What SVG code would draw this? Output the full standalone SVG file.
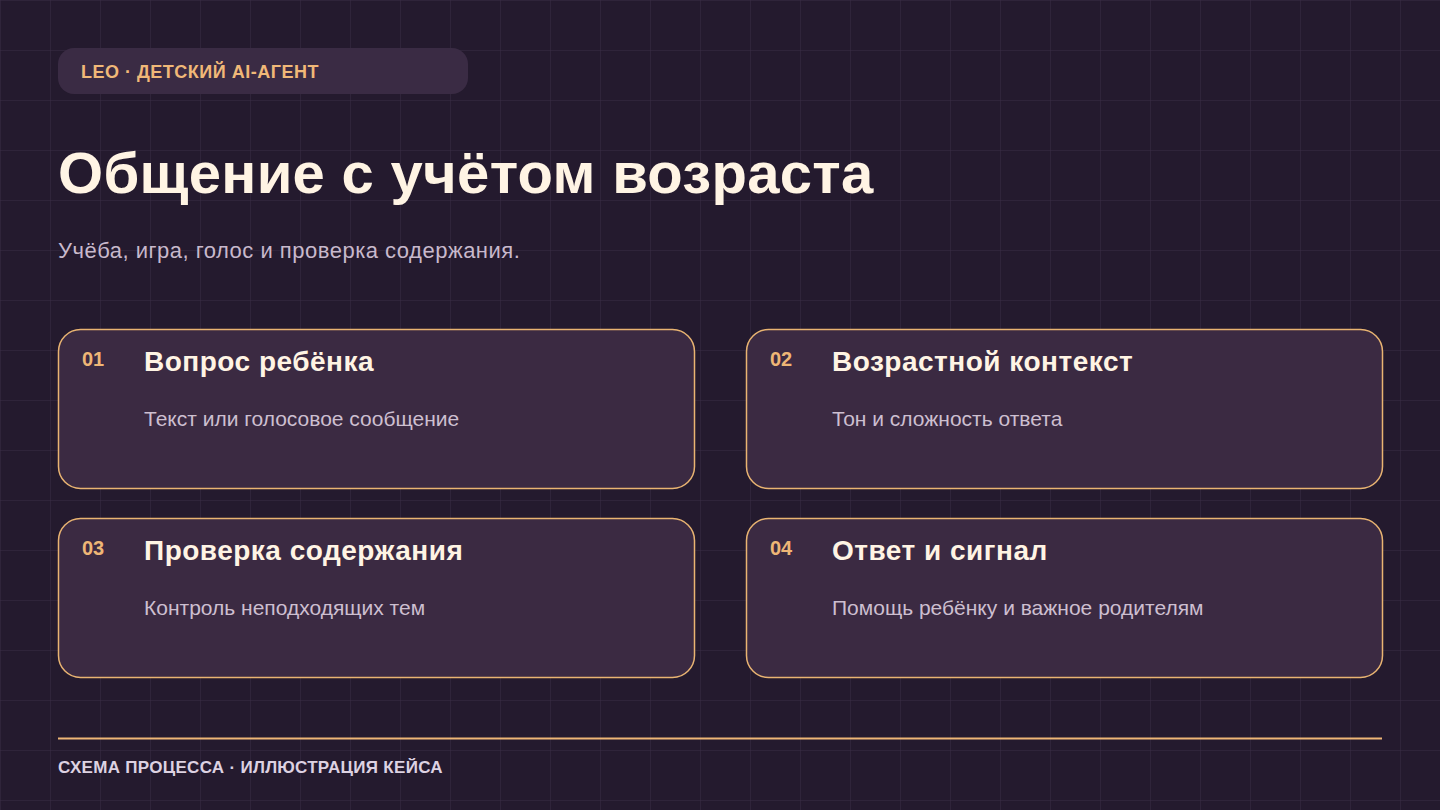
<svg xmlns="http://www.w3.org/2000/svg" width="1440" height="810" viewBox="0 0 1440 810">
<defs>
<pattern id="grid" width="50" height="50" patternUnits="userSpaceOnUse">
<path d="M0 0H50M0 0V50" fill="none" stroke="#3a2d45" stroke-width="1"/>
</pattern>
<style>
.card{fill:#3b2a42;stroke:#e9b472;stroke-width:1.5}
.num{font-family:"Liberation Sans",Arial,sans-serif;font-weight:bold;font-size:20px;fill:#eeb676}
.ttl{font-family:"Liberation Sans",Arial,sans-serif;font-weight:bold;font-size:28px;letter-spacing:0.5px;fill:#fff4e4}
.dsc{font-family:"Liberation Sans",Arial,sans-serif;font-size:21px;fill:#cdbfd0}
</style>
</defs>
<rect width="1440" height="810" fill="#241a2e"/>
<rect width="1440" height="810" fill="url(#grid)"/>
<g id="tag">
<rect x="58" y="48" width="410" height="46" rx="16" fill="#3a2b44"/>
<text x="81" y="78" font-family="Liberation Sans,Arial,sans-serif" font-weight="bold" font-size="18" letter-spacing="0.5" fill="#f0b878">LEO · ДЕТСКИЙ AI-АГЕНТ</text>
</g>
<text x="58" y="193" font-family="Liberation Sans,Arial,sans-serif" font-weight="bold" font-size="58" letter-spacing="0.3" fill="#fff4e4">Общение с учётом возраста</text>
<text x="58" y="258" font-family="Liberation Sans,Arial,sans-serif" font-size="22" letter-spacing="0.5" fill="#c8b9cc">Учёба, игра, голос и проверка содержания.</text>
<g id="connectors"></g>
<g id="card1">
<rect class="card" x="58.5" y="329.5" width="636" height="159" rx="22"/>
<text class="num" x="82" y="366">01</text>
<text class="ttl" x="144" y="371">Вопрос ребёнка</text>
<text class="dsc" x="144" y="426">Текст или голосовое сообщение</text>
</g>
<g id="card2">
<rect class="card" x="746.5" y="329.5" width="636" height="159" rx="22"/>
<text class="num" x="770" y="366">02</text>
<text class="ttl" x="832" y="371">Возрастной контекст</text>
<text class="dsc" x="832" y="426">Тон и сложность ответа</text>
</g>
<g id="card3">
<rect class="card" x="58.5" y="518.5" width="636" height="159" rx="22"/>
<text class="num" x="82" y="555">03</text>
<text class="ttl" x="144" y="560">Проверка содержания</text>
<text class="dsc" x="144" y="615">Контроль неподходящих тем</text>
</g>
<g id="card4">
<rect class="card" x="746.5" y="518.5" width="636" height="159" rx="22"/>
<text class="num" x="770" y="555">04</text>
<text class="ttl" x="832" y="560">Ответ и сигнал</text>
<text class="dsc" x="832" y="615">Помощь ребёнку и важное родителям</text>
</g>
<line x1="58" y1="738.5" x2="1382" y2="738.5" stroke="#eeb676" stroke-width="2"/>
<text x="58" y="773" font-family="Liberation Sans,Arial,sans-serif" font-weight="bold" font-size="17" letter-spacing="0.3" fill="#ddd2e2">СХЕМА ПРОЦЕССА · ИЛЛЮСТРАЦИЯ КЕЙСА</text>
</svg>
